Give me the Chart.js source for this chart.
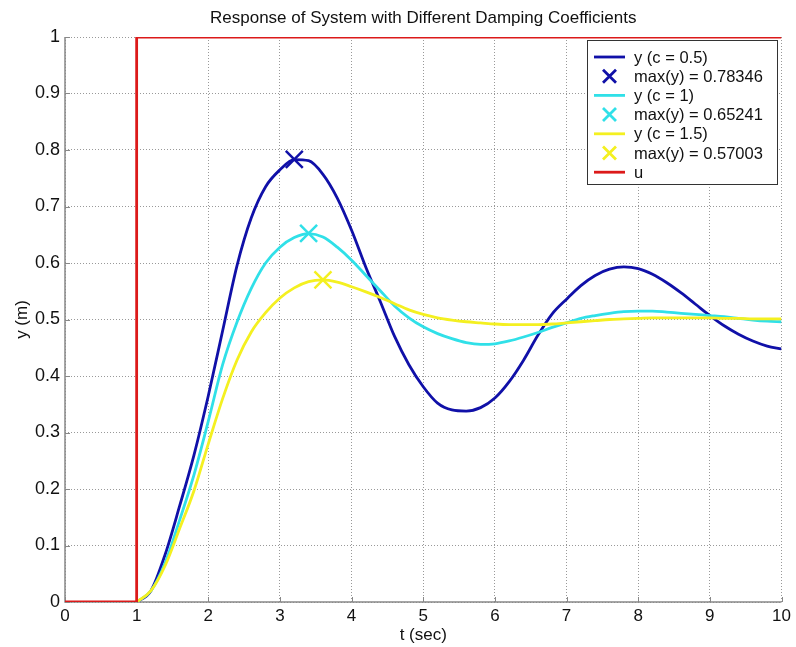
<!DOCTYPE html>
<html>
<head>
<meta charset="utf-8">
<script src="https://cdn.jsdelivr.net/npm/chart.js@4.4.1/dist/chart.umd.min.js"></script>
<style>
  body { margin: 0; background: #fff; }
  canvas { display: block; }
</style>
</head>
<body>
<canvas id="graphe" width="796" height="647"></canvas>
<script>
// temps (s) commun aux trois réponses
var temps = [1.0, 1.2, 1.4, 1.6, 1.8, 2.0, 2.2, 2.4, 2.6, 2.8,
             3.0, 3.2, 3.4, 3.6, 3.8, 4.0, 4.2, 4.4, 4.6, 4.8,
             5.0, 5.2, 5.4, 5.6, 5.8, 6.0, 6.2, 6.4, 6.6, 6.8,
             7.0, 7.2, 7.4, 7.6, 7.8, 8.0, 8.2, 8.4, 8.6, 8.8,
             9.0, 9.2, 9.4, 9.6, 9.8, 10.0];

var yC05 = [0, 0.02, 0.085, 0.17, 0.26, 0.365, 0.48, 0.595, 0.68, 0.735,
            0.765, 0.783, 0.781, 0.757, 0.715, 0.658, 0.592, 0.532, 0.47, 0.42,
            0.381, 0.352, 0.34, 0.338, 0.344, 0.361, 0.39, 0.428, 0.472, 0.51,
            0.536, 0.56, 0.578, 0.589, 0.593, 0.59, 0.58, 0.565, 0.547, 0.527,
            0.507, 0.489, 0.474, 0.462, 0.453, 0.448];

var yC1 = [0, 0.02, 0.07, 0.145, 0.225, 0.32, 0.42, 0.495, 0.555, 0.6,
           0.628, 0.645, 0.652, 0.646, 0.628, 0.605, 0.578, 0.551, 0.524, 0.503,
           0.487, 0.475, 0.466, 0.459, 0.456, 0.457, 0.462, 0.469, 0.477, 0.486,
           0.494, 0.502, 0.507, 0.511, 0.514, 0.515, 0.515, 0.513, 0.511, 0.509,
           0.507, 0.505, 0.502, 0.499, 0.497, 0.496];

var yC15 = [0, 0.02, 0.065, 0.13, 0.197, 0.28, 0.36, 0.428, 0.478, 0.512,
            0.538, 0.556, 0.567, 0.570, 0.566, 0.558, 0.549, 0.539, 0.528, 0.517,
            0.509, 0.503, 0.499, 0.496, 0.494, 0.492, 0.491, 0.491, 0.491, 0.492,
            0.494, 0.496, 0.498, 0.5, 0.501, 0.502, 0.503, 0.503, 0.503, 0.503,
            0.503, 0.502, 0.502, 0.501, 0.501, 0.501];

// échelon d'entrée
var uTemps   = [0, 1, 1, 10];
var uValeurs = [0, 0, 1, 1];

// maxima
var picTemps   = [3.2, 3.4, 3.6];
var picValeurs = [0.78346, 0.65241, 0.57003];

var couleurs = ["#1010a8", "#30e0e8", "#f4f020", "#dc1a1a"];

var libelles = [
  "y (c = 0.5)", "max(y) = 0.78346",
  "y (c = 1)",   "max(y) = 0.65241",
  "y (c = 1.5)", "max(y) = 0.57003",
  "u"
];

var police = "'Liberation Sans', Arial, sans-serif";

function points(xs, ys) {
  return xs.map(function(x, i) { return { x: x, y: ys[i] }; });
}

function courbe(label, xs, ys, couleur, ordre) {
  return {
    label: label, data: points(xs, ys), borderColor: couleur,
    borderWidth: 2.8, pointRadius: 0, order: ordre,
    cubicInterpolationMode: "monotone"
  };
}

function marqueur(label, i, couleur, ordre) {
  return {
    label: label, data: [{ x: picTemps[i], y: picValeurs[i] }],
    showLine: false, pointStyle: "crossRot", pointRadius: 12,
    pointBorderWidth: 2.5, borderColor: couleur, backgroundColor: couleur,
    order: ordre
  };
}

// légende façon MATLAB, dans le coin haut droit
var legendeMatlab = {
  id: "legendeMatlab",
  afterDraw: function(chart) {
    var ctx = chart.ctx;
    var x0 = 587, y0 = 40, w = 190, h = 144, pas = 19.2;
    ctx.save();
    ctx.fillStyle = "#fff";
    ctx.fillRect(x0, y0, w, h);
    ctx.strokeStyle = "#333";
    ctx.lineWidth = 1;
    ctx.strokeRect(x0 + 0.5, y0 + 0.5, w, h);
    ctx.font = "16.5px " + police;
    ctx.textBaseline = "middle";
    libelles.forEach(function(txt, i) {
      var y = y0 + 17 + i * pas;
      var c = i === 6 ? couleurs[3] : couleurs[Math.floor(i / 2)];
      ctx.strokeStyle = c;
      ctx.lineWidth = 2.8;
      ctx.beginPath();
      if (i % 2 === 1) {
        ctx.moveTo(603, y - 6.5); ctx.lineTo(616, y + 6.5);
        ctx.moveTo(603, y + 6.5); ctx.lineTo(616, y - 6.5);
      } else {
        ctx.moveTo(594, y); ctx.lineTo(625, y);
      }
      ctx.stroke();
      ctx.fillStyle = "#111";
      ctx.fillText(txt, 634, y + 1);
    });
    ctx.restore();
  }
};

// axes gauche/bas et petites graduations intérieures
var axesMatlab = {
  id: "axesMatlab",
  beforeDatasetsDraw: function(chart) {
    var ctx = chart.ctx, a = chart.chartArea;
    var sx = chart.scales.x, sy = chart.scales.y;
    ctx.save();
    ctx.strokeStyle = "#888";
    ctx.lineWidth = 1.5;
    ctx.beginPath();
    ctx.moveTo(a.left, a.top); ctx.lineTo(a.left, a.bottom); ctx.lineTo(a.right, a.bottom);
    ctx.stroke();
    ctx.lineWidth = 1;
    ctx.beginPath();
    sx.ticks.forEach(function(t) {
      var px = Math.round(sx.getPixelForValue(t.value)) + 0.5;
      ctx.moveTo(px, a.bottom); ctx.lineTo(px, a.bottom - 5);
    });
    sy.ticks.forEach(function(t) {
      var py = Math.round(sy.getPixelForValue(t.value)) + 0.5;
      ctx.moveTo(a.left, py); ctx.lineTo(a.left + 5, py);
    });
    ctx.stroke();
    ctx.restore();
  }
};

function etiquette(v) {
  return String(Number(v.toFixed(1)));
}

new Chart(document.getElementById("graphe"), {
  type: "line",
  data: {
    datasets: [
      courbe(libelles[0], temps, yC05, couleurs[0], 7),
      marqueur(libelles[1], 0, couleurs[0], 6),
      courbe(libelles[2], temps, yC1, couleurs[1], 5),
      marqueur(libelles[3], 1, couleurs[1], 4),
      courbe(libelles[4], temps, yC15, couleurs[2], 3),
      marqueur(libelles[5], 2, couleurs[2], 2),
      {
        label: libelles[6], data: points(uTemps, uValeurs),
        borderColor: couleurs[3], borderWidth: 2.8, pointRadius: 0,
        tension: 0, order: 1
      }
    ]
  },
  options: {
    responsive: false,
    animation: false,
    layout: { padding: { left: 0, right: 13, top: 0, bottom: 0 } },
    plugins: {
      legend: { display: false },
      tooltip: { enabled: false },
      title: {
        display: true,
        fullSize: false,
        text: "Response of System with Different Damping Coefficients",
        color: "#111",
        font: { family: police, size: 17, weight: "normal" },
        padding: { top: 8, bottom: 8.6 }
      }
    },
    scales: {
      x: {
        type: "linear", min: 0, max: 10,
        afterFit: function(s) { s.height = 45; },
        ticks: { stepSize: 1, color: "#111", font: { family: police, size: 17 }, padding: 4, maxRotation: 0, callback: etiquette },
        grid: { color: "#999", drawTicks: false, lineWidth: 1 },
        border: { display: false, dash: [1, 2] },
        title: { display: true, text: "t (sec)", color: "#111", font: { family: police, size: 17 }, padding: { top: 0, bottom: 1 } }
      },
      y: {
        type: "linear", min: 0, max: 1,
        afterFit: function(s) { s.width = 65; },
        ticks: { stepSize: 0.1, color: "#111", font: { family: police, size: 18 }, padding: 5, callback: etiquette },
        grid: { color: "#999", drawTicks: false, lineWidth: 1 },
        border: { display: false, dash: [1, 2] },
        title: { display: true, text: "y (m)", color: "#111", font: { family: police, size: 17 }, padding: { top: 12, bottom: 0 } }
      }
    }
  },
  plugins: [axesMatlab, legendeMatlab]
});
</script>
</body>
</html>
